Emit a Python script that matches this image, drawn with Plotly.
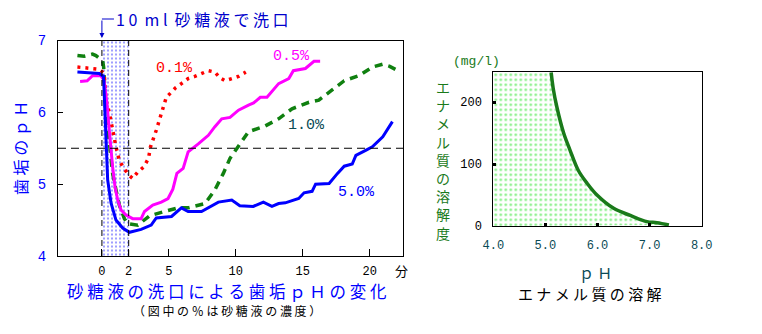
import plotly.graph_objects as go

W, H = 762, 334

# ---------------- data (left chart: plaque pH after sugar rinse) ----------------
t_01 = [-1.83, -0.58, -0.2, 0.17, 0.3, 0.55, 0.68, 0.92, 1.05, 1.3, 1.63, 2.05, 2.3, 2.68, 3.13,
        3.48, 3.63, 4.06, 4.31, 4.56, 4.81, 5.19, 5.5, 5.94, 6.44, 6.94, 7.44, 7.95, 8.44, 8.82,
        9.2, 9.7, 10.2, 10.75]
ph_01 = [6.63, 6.61, 6.6, 6.54, 6.17, 6.0, 5.87, 5.63, 5.52, 5.33, 5.22, 5.12, 5.08, 5.17, 5.24,
         5.36, 5.52, 5.75, 5.91, 6.07, 6.21, 6.28, 6.34, 6.40, 6.47, 6.50, 6.54, 6.58, 6.56, 6.48,
         6.44, 6.47, 6.50, 6.56]

t_05 = [-1.63, -1.1, -0.7, -0.08, 0.17, 0.38, 0.55, 0.68, 0.8, 0.98, 1.18, 1.43, 1.8, 2.3, 2.93,
        3.18, 3.8, 4.44, 4.94, 5.3, 5.6, 6.07, 6.44, 7.2, 7.95, 8.44, 8.95, 9.57, 10.2, 10.95,
        11.33, 11.83, 12.33, 13.2, 13.96, 14.3, 15.2, 15.84, 16.3]
ph_05 = [6.43, 6.44, 6.51, 6.51, 6.44, 6.12, 5.75, 5.47, 5.24, 4.96, 4.78, 4.64, 4.57, 4.52, 4.52,
         4.62, 4.71, 4.75, 4.8, 4.93, 5.15, 5.22, 5.45, 5.56, 5.68, 5.80, 5.91, 5.93, 6.03, 6.1,
         6.13, 6.21, 6.21, 6.4, 6.47, 6.58, 6.61, 6.71, 6.71]

t_10 = [-1.83, -1.33, -0.7, -0.45, 0.05, 0.13, 0.3, 0.55, 0.68, 0.8, 1.05, 1.3, 1.68, 1.93, 2.68,
        3.56, 4.68, 5.69, 6.44, 7.7, 8.44, 9.07, 9.57, 10.3, 10.95, 12.2, 13.2, 14.2, 15.47, 16.2,
        17.2, 18.1, 19.2, 20.2, 20.98, 21.5, 22.0]
ph_10 = [6.79, 6.78, 6.81, 6.79, 6.72, 6.63, 6.03, 5.61, 5.38, 5.15, 4.92, 4.71, 4.52, 4.45, 4.43,
         4.56, 4.62, 4.67, 4.67, 4.73, 4.92, 5.15, 5.36, 5.56, 5.73, 5.81, 5.91, 6.05, 6.14, 6.17,
         6.32, 6.44, 6.51, 6.63, 6.67, 6.64, 6.59]

t_50 = [-1.83, -1.2, -0.2, 0.12, 0.18, 0.25, 0.32, 0.43, 0.68, 1.05, 1.55, 2.05, 2.93, 3.68, 4.06,
        5.2, 5.94, 6.44, 7.44, 8.7, 9.7, 10.3, 11.3, 12.06, 12.7, 13.2, 13.7, 14.7, 15.1, 15.7,
        15.96, 16.97, 17.6, 18.1, 18.7, 18.97, 19.7, 20.2, 20.98, 21.7]
ph_50 = [6.56, 6.55, 6.54, 6.5, 6.2, 5.8, 5.45, 5.06, 4.74, 4.5, 4.39, 4.33, 4.37, 4.43, 4.53,
         4.55, 4.67, 4.62, 4.62, 4.75, 4.78, 4.70, 4.69, 4.75, 4.69, 4.73, 4.74, 4.8, 4.88, 4.9,
         5.0, 5.01, 5.15, 5.25, 5.28, 5.40, 5.47, 5.52, 5.66, 5.87]

rinse_start, rinse_end = 0, 2
critical_ph = 5.5
x_ticks = [0, 2, 5, 10, 15, 20]
y_ticks = [4, 5, 6, 7]

# ---------------- data (right chart: enamel solubility) ----------------
ph_enamel = [5.11, 5.15, 5.22, 5.35, 5.47, 5.63, 5.80, 5.99, 6.31, 6.63, 6.95, 7.14, 7.37]
solubility = [248, 222, 192, 150, 123, 90, 69, 50, 28.5, 17, 7, 5.4, 1.6]
x2_ticks = [4, 5, 6, 7, 8]
x2_labels = ["4.0", "5.0", "6.0", "7.0", "8.0"]
y2_ticks = [0, 100, 200]

# ---------------- figure ----------------
CJK = "Noto Sans CJK JP"
MONO = "Liberation Mono"

fig = go.Figure()

# rinse period shading (blue dots)
fig.add_trace(go.Scatter(
    x=[rinse_start, rinse_end, rinse_end, rinse_start, rinse_start], y=[4, 4, 7, 7, 4],
    fill="toself", mode="none", showlegend=False, hoverinfo="skip",
    fillpattern=dict(shape=".", fgcolor="#0000ff", bgcolor="white", size=4, solidity=0.2),
    xaxis="x", yaxis="y"))

fig.add_trace(go.Scatter(x=t_10, y=ph_10, mode="lines", showlegend=False,
                         line=dict(color="#108010", width=3.5, dash="8px,6px"), xaxis="x", yaxis="y"))
fig.add_trace(go.Scatter(x=t_01, y=ph_01, mode="lines", showlegend=False,
                         line=dict(color="#ff0000", width=3.5, dash="3px,5px"), xaxis="x", yaxis="y"))
fig.add_trace(go.Scatter(x=t_05, y=ph_05, mode="lines", showlegend=False,
                         line=dict(color="#ff00ff", width=3), xaxis="x", yaxis="y"))
fig.add_trace(go.Scatter(x=t_50, y=ph_50, mode="lines", showlegend=False,
                         line=dict(color="#0000ff", width=3), xaxis="x", yaxis="y"))

# right chart: area left of curve
poly_x = [4, 4] + ph_enamel + [4]
poly_y = [0, max(solubility)] + solubility + [0]
fig.add_trace(go.Scatter(
    x=poly_x, y=poly_y, fill="toself", mode="none", showlegend=False, hoverinfo="skip",
    fillpattern=dict(shape=".", fgcolor="#00dd00", bgcolor="white", size=5, solidity=0.2),
    xaxis="x2", yaxis="y2"))
fig.add_trace(go.Scatter(x=ph_enamel, y=solubility, mode="lines", showlegend=False,
                         line=dict(color="#1a7a1a", width=3.5, shape="spline"),
                         xaxis="x2", yaxis="y2"))

shapes = [
    dict(type="line", xref="x", yref="y", x0=rinse_start, x1=rinse_start, y0=4, y1=7,
         line=dict(color="black", width=1, dash="6px,4px")),
    dict(type="line", xref="x", yref="paper", x0=rinse_end, x1=rinse_end, y0=1 - 256 / H, y1=1 - 36 / H,
         line=dict(color="black", width=1, dash="6px,4px")),
    dict(type="line", xref="x domain", yref="y", x0=0, x1=1, y0=critical_ph, y1=critical_ph,
         line=dict(color="black", width=1, dash="8px,5px")),
    # arrow elbow
    dict(type="line", xref="x", yref="paper", x0=rinse_start, x1=0.9, y0=1 - 19 / H, y1=1 - 19 / H,
         line=dict(color="#0000cc", width=1)),
]


def txt(px, py, text, size, color, family=CJK, **kw):
    d = dict(x=px / W, y=1 - py / H, xref="paper", yref="paper", text=text, showarrow=False,
             xanchor="center", yanchor="middle", font=dict(family=family, size=size, color=color))
    d.update(kw)
    return d


annotations = [
    dict(x=rinse_start, y=1 - 38 / H, ax=0, ay=-19, xref="x", yref="paper",
         text="", showarrow=True, arrowhead=2, arrowsize=1, arrowwidth=1, arrowcolor="#0000cc"),
    txt(114, 19, "1 0  m l  砂 糖 液 で 洗 口", 16, "#0000cc", xanchor="left"),
    txt(174, 68, "0.1%", 15, "#ff0000", MONO),
    txt(291, 57, "0.5%", 15, "#ff00ff", MONO),
    txt(306, 125, "1.0%", 15, "#0a4a55", MONO),
    txt(356, 193, "5.0%", 15, "#0000ff", MONO),
    txt(402, 270, "分", 13, "black"),
    txt(20, 148, "歯 垢 の ｐ Ｈ", 16, "#0000ff", textangle=-90),
    txt(226, 291, "砂 糖 液 の 洗 口 に よ る 歯 垢 ｐ Ｈ の 変 化", 16.5, "#0000ff"),
    txt(227, 310, "（ 図 中 の ％ は 砂 糖 液 の 濃 度 ）", 12, "black"),
    # right chart texts
    txt(476, 61, "(mg/l)", 13, "#1a7a1a", MONO),
    txt(443, 160, "<br>".join(list("エナメル質の溶解度")), 14, "#1a7a1a"),
    txt(595, 272, "ｐ Ｈ", 15, "#0a4a55"),
    txt(590, 293, "エ ナ メ ル 質 の 溶 解", 15, "black"),
]

axis_common = dict(showgrid=False, zeroline=False, showline=True, mirror=True, automargin=False,
                   linecolor="black", linewidth=1, ticks="inside")

fig.update_layout(
    width=W, height=H, margin=dict(l=0, r=0, t=0, b=0, autoexpand=False),
    paper_bgcolor="white", plot_bgcolor="white",
    shapes=shapes, annotations=annotations,
    xaxis=dict(axis_common, domain=[58 / W, 403 / W], range=[-3.28, 22.49], anchor="y",
               tickvals=x_ticks, ticklen=7, tickcolor="black",
               tickfont=dict(family=MONO, size=12, color="black"), ticklabelstandoff=4),
    yaxis=dict(axis_common, domain=[1 - 256 / H, 1 - 40.5 / H], range=[4, 7], anchor="x",
               tickvals=y_ticks, ticklen=5, tickcolor="black",
               tickfont=dict(family=MONO, size=14, color="#0000ff"), ticklabelstandoff=8),
    xaxis2=dict(axis_common, domain=[493.3 / W, 701.7 / W], range=[4, 8], anchor="y2",
                tickvals=x2_ticks, ticktext=x2_labels, ticklen=3, tickwidth=3, tickcolor="black",
                tickfont=dict(family=MONO, size=12, color="#0a4a55"), ticklabelstandoff=8),
    yaxis2=dict(axis_common, domain=[1 - 226 / H, 1 - 72.3 / H], range=[0, 248], anchor="x2",
                tickvals=y2_ticks, ticklen=3, tickwidth=3, tickcolor="black",
                tickfont=dict(family=MONO, size=12, color="black"), ticklabelstandoff=8),
)

fig.write_html("out.html")
